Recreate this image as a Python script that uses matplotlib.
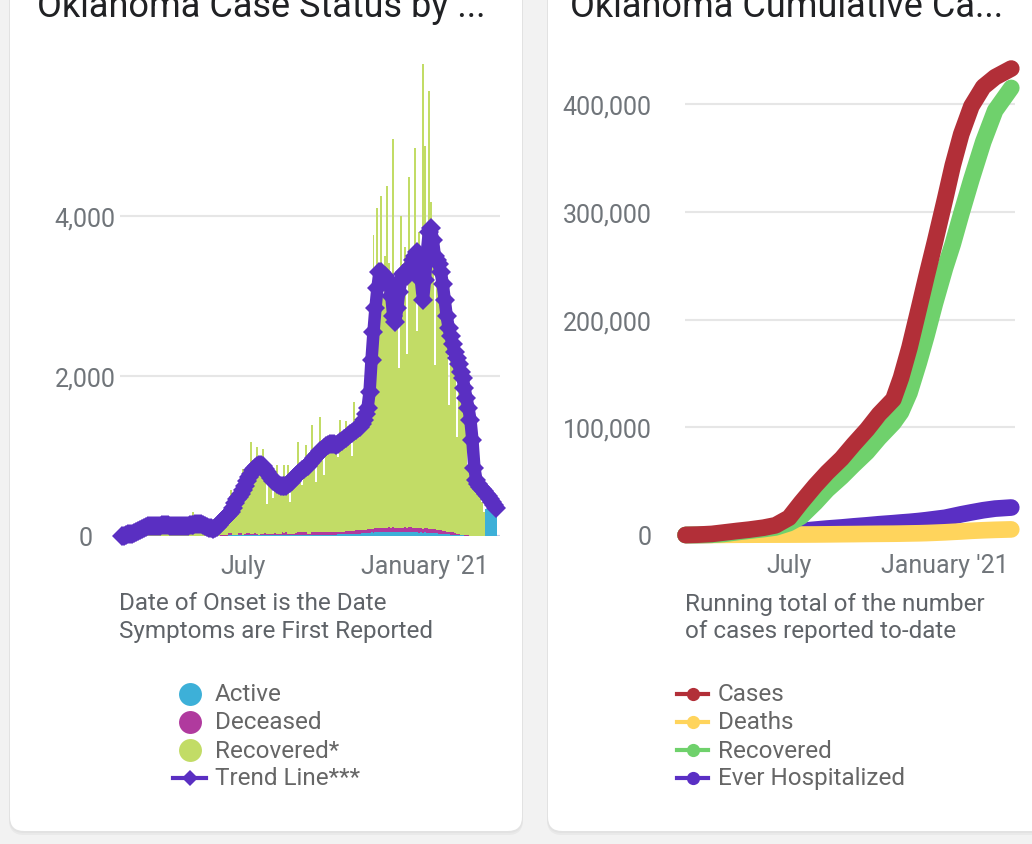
import matplotlib
matplotlib.use('Agg')
import matplotlib.pyplot as plt
import matplotlib.dates as mdates
from matplotlib.patches import FancyBboxPatch
from matplotlib.lines import Line2D
import numpy as np
import pandas as pd

plt.rcParams['font.family'] = ['Roboto', 'DejaVu Sans']

# ---- left chart: daily cases by onset date, 2-day bins from 2020-03-01 ----
recovered = [
    0, 0, 5, 10, 20, 30, 45, 60, 70, 80,
    90, 100, 110, 95, 100, 105, 90, 100, 95, 100,
    90, 95, 100, 85, 95, 100, 90, 95, 100, 90,
    95, 100, 110, 90, 100, 120, 300, 110, 100, 110,
    130, 150, 110, 140, 120, 130, 100, 110, 120, 140,
    150, 180, 220, 270, 350, 540, 330, 400, 560, 450,
    580, 820, 640, 720, 750, 1150, 820, 880, 1090, 860,
    900, 1060, 840, 380, 780, 700, 450, 720, 860, 640,
    720, 500, 850, 700, 860, 400, 720, 760, 780, 1125,
    820, 590, 880, 1090, 900, 960, 1340, 980, 625, 1000,
    1440, 1050, 710, 1080, 1100, 1210, 1120, 1150, 1180, 940,
    1400, 1200, 1220, 1380, 1250, 1280, 940, 1610, 1300, 1350,
    1350, 1460, 1300, 1740, 2340, 2000, 3050, 3675, 3000, 4000,
    3300, 4150, 2900, 3400, 4275, 3300, 2600, 4850, 3100, 2900,
    2000, 3900, 3300, 3500, 2175, 4375, 3400, 3300, 4750, 2460,
    3700, 3300, 5810, 4775, 3600, 5475, 4090, 3800, 2050, 3500,
    3300, 3200, 3000, 3100, 2900, 1590, 2700, 2500, 2400, 1210,
    2150, 2000, 1900, 1800, 1700, 840, 1400, 1200, 1000, 850,
    700, 600, 420, 300, 0, 0, 0, 0, 0, 0,
]
deceased = [
    0, 0, 0, 0, 0, 0, 1, 2, 3, 3,
    4, 4, 5, 5, 4, 4, 4, 3, 3, 3,
    3, 3, 2, 2, 2, 2, 2, 2, 2, 2,
    2, 2, 2, 2, 2, 2, 2, 2, 2, 2,
    2, 2, 2, 2, 3, 3, 3, 3, 3, 3,
    4, 4, 5, 5, 25, 30, 10, 8, 8, 25,
    30, 8, 8, 30, 25, 10, 10, 30, 8, 8,
    10, 10, 30, 10, 10, 10, 10, 30, 10, 10,
    10, 30, 30, 30, 10, 10, 10, 10, 30, 30,
    30, 30, 30, 30, 10, 10, 35, 35, 35, 35,
    35, 35, 35, 35, 35, 35, 35, 35, 35, 30,
    30, 35, 35, 40, 40, 35, 35, 40, 40, 40,
    40, 40, 45, 40, 45, 50, 45, 50, 55, 50,
    55, 50, 60, 55, 50, 60, 55, 60, 55, 50,
    60, 55, 50, 60, 55, 60, 65, 55, 60, 55,
    60, 55, 50, 60, 55, 50, 55, 45, 50, 40,
    45, 40, 35, 40, 35, 30, 30, 30, 25, 20,
    15, 10, 10, 5, 5, 5, 5, 0, 0, 0,
    0, 0, 0, 0, 0, 0, 0, 0, 0, 0,
]
active = [
    0, 0, 0, 0, 0, 0, 0, 0, 0, 0,
    0, 0, 0, 0, 0, 0, 0, 0, 0, 0,
    0, 0, 0, 0, 0, 0, 0, 0, 0, 0,
    0, 0, 0, 0, 0, 0, 0, 0, 0, 0,
    0, 0, 0, 0, 0, 0, 0, 0, 0, 0,
    5, 5, 5, 5, 8, 8, 8, 8, 8, 8,
    10, 10, 12, 10, 12, 10, 12, 10, 12, 10,
    12, 12, 12, 12, 12, 12, 12, 12, 12, 12,
    12, 15, 12, 15, 12, 15, 12, 15, 12, 15,
    15, 15, 15, 15, 15, 15, 15, 15, 15, 15,
    15, 15, 15, 15, 15, 15, 15, 15, 15, 20,
    20, 20, 20, 20, 25, 25, 25, 25, 30, 30,
    30, 35, 35, 40, 40, 40, 45, 40, 45, 50,
    45, 50, 45, 50, 45, 50, 45, 50, 45, 50,
    45, 50, 45, 50, 45, 50, 45, 50, 45, 45,
    40, 45, 40, 45, 40, 40, 35, 40, 35, 35,
    30, 30, 25, 25, 20, 20, 15, 15, 10, 10,
    10, 8, 8, 5, 5, 5, 0, 0, 0, 0,
    0, 0, 0, 0, 340, 340, 320, 290, 280, 270,
]
trend = [
    0, 5, 15, 20, 25, 30, 40, 50, 60, 75,
    90, 105, 115, 120, 120, 120, 125, 125, 130, 130,
    135, 140, 140, 135, 130, 130, 125, 125, 120, 120,
    125, 125, 130, 130, 135, 135, 140, 145, 150, 150,
    145, 135, 125, 110, 100, 95, 90, 95, 110, 140,
    170, 195, 220, 250, 275, 305, 350, 410, 460, 490,
    530, 580, 630, 690, 740, 780, 820, 850, 880, 890,
    890, 870, 840, 800, 760, 720, 690, 670, 650, 640,
    630, 625, 625, 630, 645, 665, 690, 720, 750, 780,
    800, 820, 840, 860, 880, 910, 940, 970, 1000, 1030,
    1060, 1080, 1100, 1120, 1140, 1150, 1150, 1150, 1140, 1150,
    1170, 1190, 1210, 1230, 1250, 1270, 1290, 1310, 1330, 1350,
    1360, 1400, 1450, 1520, 1600, 1800, 2200, 2550, 2850, 3100,
    3300, 3300, 3250, 3250, 3200, 3150, 3000, 2750, 2680, 2850,
    3050, 3200, 3280, 3300, 3250, 3300, 3380, 3450, 3500, 3550,
    3450, 3200, 2950, 3200, 3550, 3800, 3850, 3700, 3500, 3450,
    3400, 3300, 3150, 2950, 2750, 2600, 2500, 2400, 2300, 2230,
    2150, 2050, 1980, 1850, 1720, 1600, 1450, 1200, 850, 700,
    650, 610, 590, 560, 530, 500, 460, 420, 390, 350,
]
onset_dates = pd.date_range('2020-03-01', periods=len(trend), freq='2D')

# ---- right chart: cumulative totals ----
cum_dates = pd.to_datetime([
    '2020-03-01', '2020-03-15', '2020-04-01', '2020-04-15', '2020-05-01',
    '2020-05-15', '2020-06-01', '2020-06-15', '2020-07-01', '2020-07-15',
    '2020-08-01', '2020-08-15', '2020-09-01', '2020-09-15', '2020-10-01',
    '2020-10-15', '2020-11-01', '2020-11-10', '2020-11-20', '2020-12-01',
    '2020-12-10', '2020-12-20', '2021-01-01', '2021-01-10', '2021-01-20',
    '2021-02-01', '2021-02-15', '2021-03-01', '2021-03-20'])
cases = [0, 300, 1000, 2300, 3800, 5000, 6800, 9000, 16000, 30000,
         46000, 58000, 71000, 84000, 98000, 112000, 126000, 146000, 174000, 210000,
         240000, 272000, 312000, 343000, 372000, 398000, 416000, 425000, 433000]
deaths = [0, 10, 30, 140, 250, 290, 340, 360, 390, 430,
          500, 600, 750, 850, 1000, 1100, 1200, 1300, 1450, 1600,
          1800, 2100, 2500, 2900, 3300, 3900, 4400, 4800, 5200]
recovered_cum = [0, 0, 200, 1000, 2700, 4000, 5500, 7000, 11000, 17000,
                 30000, 42000, 54000, 65000, 77000, 90000, 104000, 114000, 132000, 160000,
                 185000, 215000, 248000, 270000, 298000, 330000, 365000, 394000, 415000]
hospitalized = [0, 50, 300, 700, 1000, 1200, 1400, 1700, 2500, 3800,
                5000, 6000, 7000, 8000, 9000, 10000, 11000, 11600, 12200, 13000,
                13800, 14800, 16000, 17500, 19200, 21000, 23000, 24500, 25500]

left_title = 'Oklahoma Case Status by ...'
right_title = 'Oklahoma Cumulative Ca...'
x_labels = ['July', "January '21"]
x_ticks = pd.to_datetime(['2020-07-01', '2021-01-01'])

C_ACTIVE, C_DEC, C_REC, C_TREND = '#3db0d8', '#b03a9e', '#c2dc66', '#5a2fc2'
C_CASES, C_DEATHS, C_RCUM, C_HOSP = '#b22f38', '#ffd45c', '#6fd16c', '#5a2fc4'
TICK_C, CAP_C, LEG_C = '#70757a', '#5f6368', '#666666'

W, H = 1032, 845
fig = plt.figure(figsize=(W / 100, H / 100), dpi=100)
fig.patch.set_facecolor('#f2f2f2')


def fx(px):
    return px / W


def fy(py):
    return 1 - py / H


# cards
for x0, w in [(10, 512), (548, 520)]:
    for off, col in [(4, '#e9e9e9'), (2, '#e2e2e2')]:
        fig.add_artist(FancyBboxPatch(((x0 - 1) / 100, (H - 832 - off) / 100), (w + 2) / 100, (832 + 30) / 100,
                                      boxstyle='round,pad=0,rounding_size=0.15',
                                      transform=fig.dpi_scale_trans, fc=col, ec='none', zorder=-6))
    fig.add_artist(FancyBboxPatch((x0 / 100, (H - 832) / 100), w / 100, (832 + 30) / 100,
                                  boxstyle='round,pad=0,rounding_size=0.14',
                                  transform=fig.dpi_scale_trans, fc='white', ec='none', zorder=-5))

# titles (cut off by the top edge, like the screenshot)
fig.text(fx(37), fy(17), left_title, fontsize=26, color='#202124', va='baseline')
fig.text(fx(570), fy(17), right_title, fontsize=26, color='#202124', va='baseline')

# ---- left axes ----
ax1 = fig.add_axes([fx(120), fy(537), fx(500) - fx(120), fy(57) - fy(537)])
ax1.set_facecolor('none')
act = np.array(active, float)
dec = np.array(deceased, float)
rec = np.array(recovered, float)
ax1.bar(onset_dates, act, width=2.0, color=C_ACTIVE, linewidth=0, zorder=2)
ax1.bar(onset_dates, dec, width=2.0, bottom=act, color=C_DEC, linewidth=0, zorder=2)
ax1.bar(onset_dates, rec, width=2.0, bottom=act + dec, color=C_REC, linewidth=0, zorder=2)
ax1.axhline(0, color='#c3cbe8', lw=1.5, zorder=1)
ax1.plot(onset_dates, trend, color=C_TREND, lw=9, marker='D', ms=10, mew=0,
         solid_joinstyle='round', solid_capstyle='round', clip_on=False, zorder=4)
ax1.set_ylim(0, 6000)
t0 = mdates.date2num(pd.Timestamp('2020-03-01'))
ax1.set_xlim(t0 - 2.3, t0 + 381.9)
ax1.set_yticks([0, 2000, 4000])
ax1.set_yticklabels(['0', '2,000', '4,000'])
ax1.set_xticks(mdates.date2num(x_ticks))
ax1.set_xticklabels(x_labels)
ax1.yaxis.grid(True, color='#e6e6e6', lw=1.5)
ax1.set_axisbelow(True)
ax1.tick_params(axis='y', length=0, pad=25, labelsize=18, labelcolor=TICK_C)
ax1.tick_params(axis='x', length=0, pad=13, labelsize=18, labelcolor=TICK_C)
for lbl in ax1.get_yticklabels():
    lbl.set_ha('center')
for s in ax1.spines.values():
    s.set_visible(False)

# ---- right axes ----
ax2 = fig.add_axes([fx(685), fy(536), fx(1015) - fx(685), fy(62) - fy(536)])
ax2.set_facecolor('none')
for vals, col in [(hospitalized, C_HOSP), (deaths, C_DEATHS), (recovered_cum, C_RCUM), (cases, C_CASES)]:
    ax2.plot(cum_dates, vals, color=col, lw=12, solid_capstyle='round', solid_joinstyle='round',
             clip_on=False, zorder=3)
ax2.set_ylim(0, 440000)
ax2.set_xlim(t0 - 0.7, t0 + 388.4)
ax2.set_yticks([0, 100000, 200000, 300000, 400000])
ax2.set_yticklabels(['0', '100,000', '200,000', '300,000', '400,000'])
ax2.set_xticks(mdates.date2num(x_ticks))
ax2.set_xticklabels(x_labels)
ax2.yaxis.grid(True, color='#e6e6e6', lw=1.5)
ax2.set_axisbelow(True)
ax2.tick_params(axis='y', length=0, pad=24, labelsize=18, labelcolor=TICK_C)
ax2.tick_params(axis='x', length=0, pad=13, labelsize=18, labelcolor=TICK_C)
ax2.get_ygridlines()[0].set_visible(False)
for s in ax2.spines.values():
    s.set_visible(False)

# captions
fig.text(fx(119), fy(604), 'Date of Onset is the Date', fontsize=17.5, color=CAP_C, va='center')
fig.text(fx(119), fy(632), 'Symptoms are First Reported', fontsize=17.5, color=CAP_C, va='center')
fig.text(fx(685), fy(604), 'Running total of the number', fontsize=17.5, color=CAP_C, va='center')
fig.text(fx(685), fy(632), 'of cases reported to-date', fontsize=17.5, color=CAP_C, va='center')

# left legend
rows = [695, 723, 751, 779]
for y, col, name in zip(rows[:3], [C_ACTIVE, C_DEC, C_REC], ['Active', 'Deceased', 'Recovered*']):
    fig.add_artist(Line2D([fx(190)], [fy(y)], marker='o', ms=16.5, mew=0, color=col,
                          transform=fig.transFigure))
    fig.text(fx(215), fy(y), name, fontsize=17.5, color=LEG_C, va='center')
fig.add_artist(Line2D([fx(173), fx(206)], [fy(779)] * 2, lw=3, color=C_TREND, transform=fig.transFigure))
fig.add_artist(Line2D([fx(190)], [fy(779)], marker='D', ms=8, mew=0, color=C_TREND,
                      transform=fig.transFigure))
fig.text(fx(215), fy(779), 'Trend Line***', fontsize=17.5, color=LEG_C, va='center')

# right legend
for y, col, name in zip(rows, [C_CASES, C_DEATHS, C_RCUM, C_HOSP],
                        ['Cases', 'Deaths', 'Recovered', 'Ever Hospitalized']):
    fig.add_artist(Line2D([fx(677), fx(708)], [fy(y)] * 2, lw=3, color=col, transform=fig.transFigure))
    fig.add_artist(Line2D([fx(693)], [fy(y)], marker='o', ms=9.5, mew=0, color=col,
                          transform=fig.transFigure))
    fig.text(fx(718), fy(y), name, fontsize=17.5, color=LEG_C, va='center')

fig.savefig('out.png', dpi=100, facecolor=fig.get_facecolor())
